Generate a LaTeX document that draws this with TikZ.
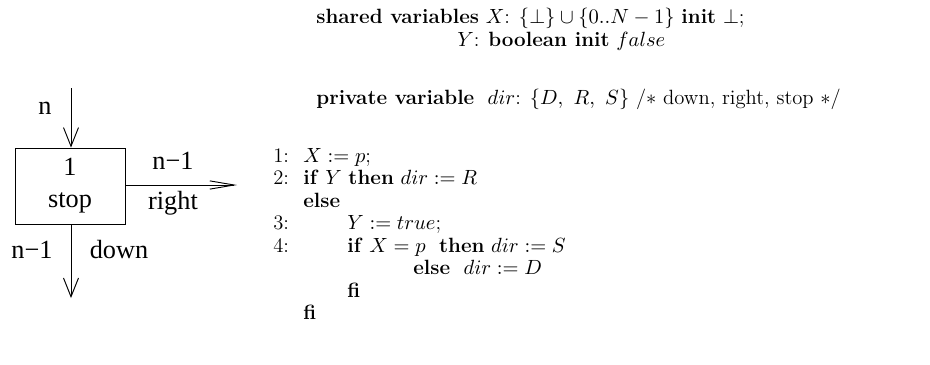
\documentclass[tikz,border=0pt]{standalone}
\usepackage{amsmath, amssymb}
\usepackage{fontspec}
\usepackage{tikz}
\usetikzlibrary{arrows.meta, positioning, calc}
\newfontfamily\labelfont{Liberation Serif}
\tikzset{
    lbl/.style={font=\labelfont\fontsize{14}{16}\selectfont, inner sep=0pt},
    code/.style={anchor=base west, inner sep=0pt, font=\fontsize{11}{13}\selectfont},
    lnum/.style={code},
    vflow/.style={line width=0.5pt, -{Straight Barb[length=10pt, width=8pt, line width=0.5pt]}},
    hflow/.style={line width=0.5pt, -{Straight Barb[length=13pt, width=4.4pt, line width=0.5pt]}}
}

\begin{document}
\begin{tikzpicture}[x=0.533pt, y=-0.533pt]
    % Cornice fissa dell'immagine
    \useasboundingbox (0,0) rectangle (930,364);

    % Processo con porte d'ingresso e d'uscita
    \node[draw, line width=0.5pt, minimum width=58.6pt, minimum height=40.5pt,
          align=center, lbl] (proc) at (70,186) {1\\[1pt]stop};
    \coordinate (in) at (71,88);
    \coordinate (outr) at (237,185);
    \coordinate (outd) at (71,298);

    \draw[vflow] (in) -- (in |- proc.north);
    \draw[hflow] (proc.east |- outr) -- (outr);
    \draw[vflow] (proc.south -| outd) -- (outd);

    \node[lbl] (nin) at (45,108) {n};
    \node[lbl] (nright) at (173,161) {n−1};
    \node[lbl] (right) at (173,203) {right};
    \node[lbl] (ndown) at (32,250) {n−1};
    \node[lbl] (down) at (119,250) {down};

    % Dichiarazioni
    \node[code] (decl1) at (316,23) {\textbf{shared variables} $X$: $\{\bot\}\cup\{0..N-1\}$ \textbf{init} $\bot$;};
    \node[code] (decl2) at (457,46) {$Y$: \textbf{boolean init} $false$};
    \node[code] (decl3) at (316,104) {\textbf{private variable}\ \ $dir$: $\{D,\ R,\ S\}$ /$*$ down, right, stop $*$/};

    % Codice numerato
    \foreach \k/\y in {1/162, 2/184, 3/229, 4/252}{
        \node[lnum] (num\k) at (273,\y) {\k:};
    }
    \node[code] (c1) at (303,162) {$X := p$;};
    \node[code] (c2) at (303,184) {\textbf{if} $Y$ \textbf{then} $dir := R$};
    \node[code] (c3) at (303,207) {\textbf{else}};
    \node[code] (c4) at (347,229) {$Y := true$;};
    \node[code] (c5) at (347,252) {\textbf{if} $X = p$\ \ \textbf{then} $dir := S$};
    \node[code] (c6) at (413,274) {\textbf{else}\ \ $dir := D$};
    \node[code] (c7) at (347,297) {\textbf{fi}};
    \node[code] (c8) at (303,319) {\textbf{fi}};
\end{tikzpicture}
\end{document}
